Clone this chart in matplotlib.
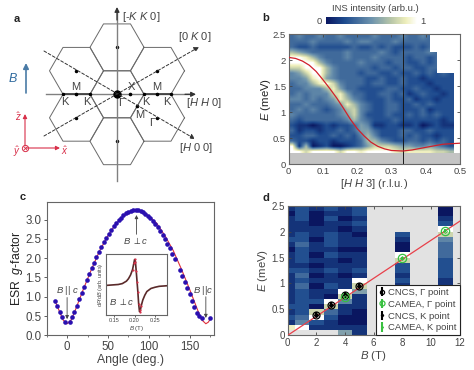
import numpy as np
import matplotlib

matplotlib.use("Agg")
import matplotlib.pyplot as plt
from matplotlib.colors import LinearSegmentedColormap

plt.rcParams["font.family"] = ["Liberation Sans", "DejaVu Sans"]
plt.rcParams["mathtext.fontset"] = "custom"
plt.rcParams["mathtext.rm"] = "Liberation Sans"
plt.rcParams["mathtext.it"] = "Liberation Sans:italic"
plt.rcParams["mathtext.bf"] = "Liberation Sans:bold"

FIG_W, FIG_H = 474, 370

# panel a
HEX_CENTERS = [(0, 0), (0, 1), (0, -1), (1, 0.5), (1, -0.5), (-1, 0.5), (-1, -0.5)]

# panel b, digits are intensity 0-9, short rows are no data on the right, top row first
INS_ROWS = [
    "343343343333433343343",
    "333433334344333433333",
    "322322222322323222323",
    "6543333343333432333343",
    "9986433343334333323323",
    "9999643333433323322323",
    "7799964333332332332233",
    "457996433323322322323232",
    "445895433332232232212222",
    "344689743332332232221222",
    "334446853322223322322122",
    "343444785332233231232212",
    "443434586432223223122122",
    "334333458643223322323222",
    "343432346743223322231222",
    "433333345742223223232322",
    "323333334643222322222212",
    "211012122354112211201211",
    "312212232355322233223222",
    "223322323246422232322122",
    "322122122236643223323232",
    "916012001235777655445432",
    "997999979989999878888776",
]
DISP_H = [0.0, 0.02, 0.04, 0.06, 0.08, 0.10, 0.12, 0.14, 0.16, 0.18, 0.20, 0.22,
          0.24, 0.26, 0.28, 0.30, 0.333, 0.36, 0.40, 0.45, 0.50]
DISP_E = [2.05, 2.03, 1.98, 1.90, 1.78, 1.62, 1.45, 1.27, 1.07, 0.86, 0.68, 0.54,
          0.42, 0.34, 0.29, 0.26, 0.25, 0.27, 0.32, 0.38, 0.40]

# panel c
ESR_ANGLE = [-15, -12, -9, -6, -3, 3, 6, 9, 12, 15, 18, 21, 24, 27, 30, 33, 36, 39,
             42, 45, 48, 51, 54, 57, 60, 63, 66, 69, 72, 75, 78, 81, 84, 87, 90, 93,
             96, 99, 102, 105, 108, 111, 114, 117, 120, 123, 126, 129, 132, 138, 141,
             144, 147, 150, 153, 156, 159, 162, 165, 175]
ESR_G = [0.88, 0.77, 0.61, 0.47, 0.35, 0.35, 0.47, 0.61, 0.77, 0.94, 1.10, 1.26, 1.43,
         1.58, 1.74, 1.88, 2.02, 2.15, 2.29, 2.41, 2.52, 2.63, 2.73, 2.83, 2.91, 2.99,
         3.05, 3.11, 3.16, 3.20, 3.22, 3.24, 3.25, 3.24, 3.22, 3.19, 3.15, 3.10, 3.04,
         2.97, 2.89, 2.81, 2.71, 2.60, 2.49, 2.38, 2.26, 2.12, 1.99, 1.70, 1.54, 1.39,
         1.22, 1.06, 0.90, 0.73, 0.57, 0.50, 0.44, 0.44]
FIT_ANGLE = [-15, -10, -5, 0, 5, 10, 20, 30, 40, 50, 60, 70, 80, 85, 90, 100, 110, 120,
             130, 140, 150, 160, 165, 170, 173, 176]
FIT_G = [0.90, 0.65, 0.40, 0.30, 0.40, 0.65, 1.20, 1.72, 2.20, 2.58, 2.90, 3.10, 3.22,
         3.25, 3.22, 3.10, 2.90, 2.58, 2.20, 1.72, 1.20, 0.65, 0.40, 0.30, 0.34, 0.44]

# panel c inset
INSET_B = [0.13, 0.14, 0.15, 0.16, 0.17, 0.175, 0.18, 0.185, 0.19, 0.195, 0.198, 0.20,
           0.202, 0.204, 0.206, 0.208, 0.21, 0.212, 0.214, 0.216, 0.22, 0.225, 0.23,
           0.24, 0.25, 0.26, 0.27, 0.28]
INSET_SIGNAL = [0.49, 0.495, 0.50, 0.505, 0.52, 0.54, 0.56, 0.60, 0.66, 0.75, 0.85, 0.915,
                0.88, 0.72, 0.55, 0.38, 0.18, 0.06, 0.08, 0.15, 0.25, 0.33, 0.39,
                0.44, 0.46, 0.475, 0.48, 0.485]

# panel d, one column string per field, top row (2.45 meV) first
FIELD_EDGES = [(0.0, 0.5), (0.5, 1.5), (1.5, 2.5), (2.5, 3.5), (3.5, 4.5), (4.5, 5.5),
               (7.5, 8.5), (10.5, 11.5)]
FIELD_COLUMNS = [
    "1011112101112111111212" + "18.",
    "2221122322212323222223" + "49.",
    "10001101101010101120" + "7921.",
    "212112221211211210" + "97" + "3211.",
    "1101011101011011" + "97" + "4" + "110015",
    "22121011011121" + "97" + "5" + "11100011",
    ".....2100" + "97" + "22121121011010",
    "0012" + "97" + "4333222211100100011",
]
CNCS_B = [2, 3, 4, 5]
CNCS_E = [0.40, 0.59, 0.78, 0.96]
CAMEA_B = [4, 8, 11]
CAMEA_E = [0.73, 1.49, 2.02]
LINE_B = [0, 12]
LINE_E = [0, 2.2]

INS_CMAP = LinearSegmentedColormap.from_list(
    "ins",
    [(0.0, "#0a1660"), (0.2, "#1d4a8e"), (0.5, "#6d93ad"),
     (0.72, "#b9c7a8"), (0.88, "#eeeebb"), (1.0, "#ffffff")],
)
INS_CMAP.set_bad((0, 0, 0, 0))

GRAY_TXT = "#444444"
SPINE = "#666666"


def add_axes_px(fig, left, top, right, bottom):
    return fig.add_axes([left / FIG_W, 1 - bottom / FIG_H,
                         (right - left) / FIG_W, (bottom - top) / FIG_H])


def style_axes(ax, size):
    for spine in ax.spines.values():
        spine.set_color(SPINE)
        spine.set_linewidth(0.8)
    ax.tick_params(labelsize=size, colors=GRAY_TXT, length=2, width=0.6, pad=2)


def digits_to_values(rows, width):
    out = []
    for row in rows:
        row = row.ljust(width, ".")
        out.append([np.nan if c == "." else int(c) / 9 for c in row])
    return np.array(out)


def draw_schematic(fig):
    ax = fig.add_axes([0, 0, 1, 1])
    ax.set_xlim(0, FIG_W)
    ax.set_ylim(FIG_H, 0)
    ax.axis("off")
    ax.set_zorder(-1)

    cx, cy = 117, 94.3
    r = 27
    apo = 23.5
    angles = np.radians(np.arange(0, 361, 60))
    for i, j in HEX_CENTERS:
        hx = cx + i * 1.5 * r
        hy = cy - j * 2 * apo
        ax.plot(hx + r * np.cos(angles), hy + r * np.sin(angles), color="#6a6a6a", lw=0.7)
        if (i, j) != (0, 0):
            ax.plot(hx, hy, "o", color="black", ms=1.5)

    arrow = dict(arrowstyle="-|>", color="#333333", lw=0.9, mutation_scale=7, shrinkA=0, shrinkB=0)
    ax.plot([46, 190], [cy, cy], color="#808080", lw=1.0)
    ax.plot([cx, cx], [12, 181], color="#808080", lw=1.0)
    ax.plot([63, 90], [cy, cy], color="#333333", lw=1.1)
    ax.plot([144, 171], [cy, cy], color="#333333", lw=1.1)
    ax.annotate("", xy=(196, cy), xytext=(185, cy), arrowprops=arrow)
    ax.annotate("", xy=(cx, 7), xytext=(cx, 20), arrowprops=arrow)

    dash = dict(arrowstyle="-|>", color="#333333", lw=0.7, ls=(0, (3, 2)), mutation_scale=7,
                shrinkA=0, shrinkB=0)
    ax.annotate("", xy=(195, 139), xytext=(44, 51), arrowprops=dash)
    ax.annotate("", xy=(199, 47), xytext=(44, 136), arrowprops=dash)

    ax.plot(cx, cy, "o", color="black", ms=5)
    for px in [76.5, 130.5, 157.5]:
        ax.plot(px, cy, "o", color="black", ms=1.6)
    ax.plot(137, 105.5, "o", color="black", ms=1.6)
    ax.plot([90, 63, 144, 171], [cy] * 4, "o", color="black", ms=1.5)

    labels = [
        (17, 19, "a", dict(fontweight="bold", color="#222222", fontsize=8)),
        (141, 16.5, "[-$K$ $K$ 0]", {}),
        (195, 37.5, "[0 $K$ 0]", {}),
        (204, 103, "[$H$ $H$ 0]", {}),
        (196, 148, "[$H$ 0 0]", {}),
        (76, 87, "M", {}),
        (157, 87, "M", {}),
        (131, 87, "X", {}),
        (65, 102, "K", {}),
        (87, 102, "K", {}),
        (146, 102, "K", {}),
        (167, 102, "K", {}),
        (121, 103, "Γ", {}),
        (140, 115, "M", {}),
        (152, 123, "Γ", {}),
    ]
    for x, y, s, kw in labels:
        opts = dict(fontsize=8, color=GRAY_TXT, ha="center", va="center")
        opts.update(kw)
        ax.text(x, y, s, **opts)

    blue = dict(arrowstyle="-|>", color="#4a7ba6", lw=1.2, mutation_scale=8, shrinkA=0, shrinkB=0)
    ax.annotate("", xy=(26, 63), xytext=(26, 93), arrowprops=blue)
    ax.text(13, 78, "$\\mathit{B}$", color="#2f6a9e", fontsize=9, fontweight="bold", ha="center", va="center")

    red = dict(arrowstyle="-|>", color="#d8304a", lw=0.8, mutation_scale=6, shrinkA=0, shrinkB=0)
    ax.annotate("", xy=(25, 114), xytext=(25, 146), arrowprops=red)
    ax.annotate("", xy=(60, 148), xytext=(26, 148), arrowprops=red)
    ax.plot(25.5, 148, "o", mfc="white", mec="#d8304a", ms=4.5, mew=0.7)
    ax.plot(25.5, 148, "x", color="#d8304a", ms=3, mew=0.6)
    ax.text(18, 117, "$\\hat{z}$", color="#d8304a", fontsize=7, ha="center", va="center")
    ax.text(17, 152, "$\\hat{y}$", color="#d8304a", fontsize=7, ha="center", va="center")
    ax.text(65, 151, "$\\hat{x}$", color="#d8304a", fontsize=7, ha="center", va="center")

    ax.text(266, 18, "b", fontweight="bold", color="#222222", fontsize=8, ha="center", va="center")
    ax.text(23, 197, "c", fontweight="bold", color="#222222", fontsize=8, ha="center", va="center")
    ax.text(266, 198, "d", fontweight="bold", color="#222222", fontsize=8, ha="center", va="center")


def draw_ins(fig):
    ax = add_axes_px(fig, 288.7, 34, 460, 164)
    values = digits_to_values(INS_ROWS, 24)
    im = ax.imshow(values, extent=(0, 0.48, 0.2, 2.5), aspect="auto", cmap=INS_CMAP,
                   vmin=0, vmax=1, interpolation="bilinear", zorder=1)
    ax.axhspan(0, 0.22, color="#c4c4c4", zorder=2, lw=0)
    ax.axvline(0.333, color="#1a1a1a", lw=0.7, zorder=3)
    ax.plot(DISP_H, DISP_E, color="#d0202a", lw=0.9, zorder=4)
    ax.set_xlim(0, 0.5)
    ax.set_ylim(0, 2.5)
    ax.set_xticks([0, 0.1, 0.2, 0.3, 0.4, 0.5], ["0", "0.1", "0.2", "0.3", "0.4", "0.5"])
    ax.set_yticks([0, 0.5, 1, 1.5, 2, 2.5], ["0", "0.5", "1", "1.5", "2", "2.5"])
    ax.tick_params(top=True, right=True, direction="in")
    style_axes(ax, 6.8)
    ax.set_xlabel("[$H$ $H$ 3] (r.l.u.)", fontsize=8, color=GRAY_TXT, labelpad=1)
    ax.set_ylabel("$E$ (meV)", fontsize=8.2, color="#222222", labelpad=0)

    cax = add_axes_px(fig, 326, 17.3, 417, 24.3)
    bar = fig.colorbar(im, cax=cax, orientation="horizontal", ticks=[])
    bar.outline.set_visible(False)
    fig.text(375 / FIG_W, 1 - 8.5 / FIG_H, "INS intensity (arb.u.)", fontsize=6.8, color=GRAY_TXT,
             ha="center", va="center")
    fig.text(319 / FIG_W, 1 - 21 / FIG_H, "0", fontsize=6.8, color=GRAY_TXT, ha="center", va="center")
    fig.text(423 / FIG_W, 1 - 21 / FIG_H, "1", fontsize=6.8, color=GRAY_TXT, ha="center", va="center")


def draw_esr(fig):
    ax = add_axes_px(fig, 46.7, 202.3, 214, 335.3)
    ax.plot(FIT_ANGLE, FIT_G, color="#e0303a", lw=0.8, zorder=2)
    ax.scatter(ESR_ANGLE, ESR_G, s=11, color="#2a10b0", lw=0, zorder=3)
    ax.set_xlim(-24, 180)
    ax.set_ylim(0, 3.45)
    ax.set_xticks([0, 50, 100, 150])
    ax.set_xticks([-25, 25, 75, 125, 175], minor=True)
    ax.set_yticks([0, 0.5, 1, 1.5, 2, 2.5, 3], ["0.0", "0.5", "1.0", "1.5", "2.0", "2.5", "3.0"])
    style_axes(ax, 8.3)
    ax.tick_params(which="minor", length=1.5, width=0.5, colors=GRAY_TXT)
    ax.set_xlabel("Angle (deg.)", fontsize=8.8, color=GRAY_TXT, labelpad=1)
    ax.set_ylabel("ESR  $g$-factor", fontsize=8.8, color="#222222", labelpad=0)

    arrow = dict(arrowstyle="-|>", color="#444444", lw=0.6, mutation_scale=5, shrinkA=0, shrinkB=0)
    ax.annotate("", xy=(0, 0.42), xytext=(0, 0.98), arrowprops=arrow)
    ax.annotate("", xy=(85, 3.12), xytext=(85, 2.62), arrowprops=arrow)
    ax.annotate("", xy=(170, 0.45), xytext=(170, 1.0), arrowprops=arrow)
    ax.text(0, 1.16, "$B$ || $c$", fontsize=6.8, color=GRAY_TXT, ha="center", va="center")
    ax.text(84, 2.47, "$B$ $\\perp$$c$", fontsize=6.8, color=GRAY_TXT, ha="center", va="center")
    ax.text(167, 1.16, "$B$ ||$c$", fontsize=6.8, color=GRAY_TXT, ha="center", va="center")

    ins = add_axes_px(fig, 106, 254.3, 167.3, 315.3)
    ins.plot(INSET_B, INSET_SIGNAL, color="#5a2a2a", lw=1.2, zorder=2)
    ins.scatter(INSET_B[9:20], INSET_SIGNAL[9:20], s=2.5, color="#d8304a", lw=0, zorder=3)
    ins.set_xlim(0.13, 0.28)
    ins.set_ylim(0, 1)
    ins.set_xticks([0.15, 0.20, 0.25], ["0.15", "0.20", "0.25"])
    ins.set_yticks([])
    style_axes(ins, 4)
    ins.tick_params(pad=1, length=1.2)
    ins.set_xlabel("$B$ (T)", fontsize=4.5, color=GRAY_TXT, labelpad=0.5)
    ins.set_ylabel("d$P$/d$B$ (arb. units)", fontsize=4, color=GRAY_TXT, labelpad=1)
    ins.text(0.168, 0.22, "$B$ $\\perp$$c$", fontsize=6.8, color=GRAY_TXT, ha="center", va="center")


def draw_field(fig):
    ax = add_axes_px(fig, 287.7, 205.7, 459.7, 335.3)
    ax.set_facecolor("#e2e2e2")
    rows = len(FIELD_COLUMNS[0])
    edges = np.linspace(2.5, 0.0, rows + 1)
    for (left, right), column in zip(FIELD_EDGES, FIELD_COLUMNS):
        values = digits_to_values(list(column), 1)
        ax.pcolormesh([left, right], edges, np.ma.masked_invalid(values), cmap=INS_CMAP, vmin=0, vmax=1, zorder=1)
    ax.plot(LINE_B, LINE_E, color="#e8404a", lw=0.9, zorder=3)
    ax.errorbar(CNCS_B, CNCS_E, yerr=0.05, fmt="o", mfc="none", mec="black", ecolor="black", ms=5, mew=0.9,
                zorder=4, label="CNCS, Γ point")
    ax.errorbar(CAMEA_B, CAMEA_E, yerr=0.03, fmt="o", mfc="none", mec="#38c040", ecolor="#38c040", ms=6, mew=0.9,
                zorder=5, label="CAMEA, Γ point")
    ax.errorbar(CNCS_B, CNCS_E, yerr=0.05, fmt="D", color="black", ms=2, zorder=6, label="CNCS, K point")
    ax.errorbar(CAMEA_B, CAMEA_E, yerr=0.03, fmt="D", mfc="none", mec="#38c040", ecolor="#38c040", ms=2, mew=0.6,
                zorder=6, label="CAMEA, K point")
    ax.set_xlim(0, 12)
    ax.set_ylim(0, 2.5)
    ax.set_xticks([0, 2, 4, 6, 8, 10, 12])
    ax.set_yticks([0, 0.5, 1, 1.5, 2, 2.5], ["0", "0.5", "1", "1.5", "2", "2.5"])
    ax.tick_params(top=True, right=True, direction="in")
    style_axes(ax, 7)
    ax.set_xlabel("$B$ (T)", fontsize=8.2, color=GRAY_TXT, labelpad=1)
    ax.set_ylabel("$E$ (meV)", fontsize=8.2, color=GRAY_TXT, labelpad=1)
    leg = ax.legend(loc="lower right", fontsize=6.8, fancybox=False, framealpha=1, edgecolor="#222222",
                    borderaxespad=0, borderpad=0.3, labelspacing=0.3, handlelength=0.8, handletextpad=0.25,
                    labelcolor=GRAY_TXT, markerscale=0.6)
    leg.get_frame().set_linewidth(0.8)
    leg.set_zorder(10)


def main():
    fig = plt.figure(figsize=(FIG_W / 100, FIG_H / 100), dpi=100)
    draw_schematic(fig)
    draw_ins(fig)
    draw_esr(fig)
    draw_field(fig)
    fig.savefig("out.png", dpi=100)


if __name__ == "__main__":
    main()
